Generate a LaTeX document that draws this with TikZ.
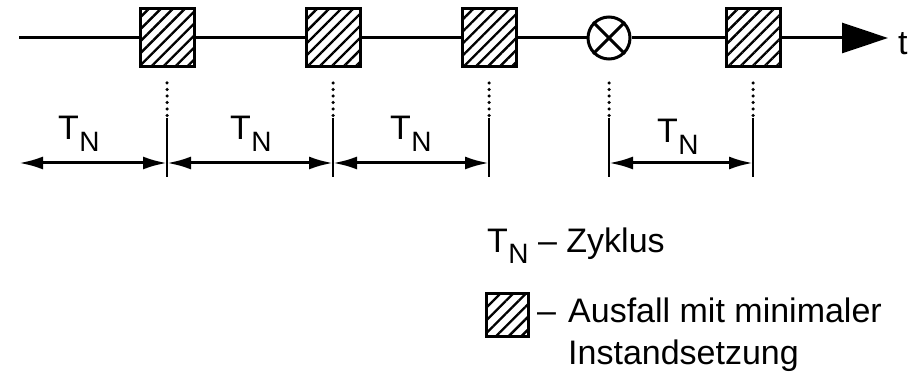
\documentclass[tikz,border=0pt]{standalone}
\usepackage{fontspec}
\setmainfont{Liberation Sans}
\usetikzlibrary{arrows.meta,patterns.meta}
\newcommand{\TN}{T\kern0.5pt\raisebox{-0.35em}{\fontsize{28}{28}\selectfont N}}

\begin{document}
\begin{tikzpicture}[
  x=1pt, y=-1pt,
  fail/.style={draw, line width=3pt, inner sep=0pt, minimum width=54pt, minimum height=58pt,
    pattern={Lines[angle=45,distance=8.5pt,line width=2.4pt]}},
  check/.style={draw, circle, line width=3pt, inner sep=0pt, minimum size=42pt},
  axis/.style={line width=3pt},
  dots/.style={line width=3.5pt, line cap=round, dash pattern=on 0pt off 6.5pt},
  ext/.style={line width=2.5pt},
  dim/.style={{Latex[length=24pt,width=13pt]}-{Latex[length=24pt,width=13pt]}, line width=3pt},
  txt/.style={inner sep=0pt, font=\fontsize{34}{40}\selectfont}
]
\useasboundingbox (0,0) rectangle (921,374);

\coordinate (start) at (19,38);
\coordinate (end) at (888,38);
\node[fail] (f1) at (167,38) {};
\node[fail] (f2) at (333,38) {};
\node[fail] (f3) at (489,38) {};
\node[check] (c1) at (609,38) {};
\node[fail] (f4) at (753,38) {};
\node[txt, anchor=base west] (t) at (898,55) {t};

\draw[axis] (start) -- (f1);
\draw[axis] (f1) -- (f2);
\draw[axis] (f2) -- (f3);
\draw[axis] (f3) -- (c1);
\draw[axis] (c1) -- (f4);
\draw[axis, -{Triangle[length=46pt,width=30pt]}] (f4) -- (end);
\draw[axis] (c1.north east) -- (c1.south west);
\draw[axis] (c1.north west) -- (c1.south east);

\coordinate (top) at (0,83);
\coordinate (mid) at (0,118);
\coordinate (bot) at (0,177);
\coordinate (dimy) at (0,163);
\foreach \n in {f1,f2,f3,c1,f4} {
  \draw[dots] (\n |- top) -- (\n |- mid);
  \draw[ext] (\n |- mid) -- (\n |- bot);
  \coordinate (\n-d) at (\n |- dimy);
}
\coordinate (s-d) at (start |- dimy);

\draw[dim] (s-d) -- (f1-d);
\draw[dim] (f1-d) -- (f2-d);
\draw[dim] (f2-d) -- (f3-d);
\draw[dim] (c1-d) -- (f4-d);

\node[txt, anchor=base west] (tn1) at (58,140) {\TN};
\node[txt, anchor=base west] (tn2) at (230,140) {\TN};
\node[txt, anchor=base west] (tn3) at (390,140) {\TN};
\node[txt, anchor=base west] (tn4) at (657,143) {\TN};

\node[fail, minimum width=42pt, minimum height=43pt, pattern={Lines[angle=45,distance=9pt,line width=2.4pt]}] (key) at (507,315) {};
\node[txt, anchor=base west] (zyklus) at (487,252) {\TN\ – Zyklus};
\node[txt, anchor=base west] (dash) at (537,322) {–};
\node[txt, anchor=base west] (ausfall) at (568,322) {Ausfall mit minimaler};
\node[txt, anchor=base west] (instand) at (568,364) {Instandsetzung};
\end{tikzpicture}
\end{document}
